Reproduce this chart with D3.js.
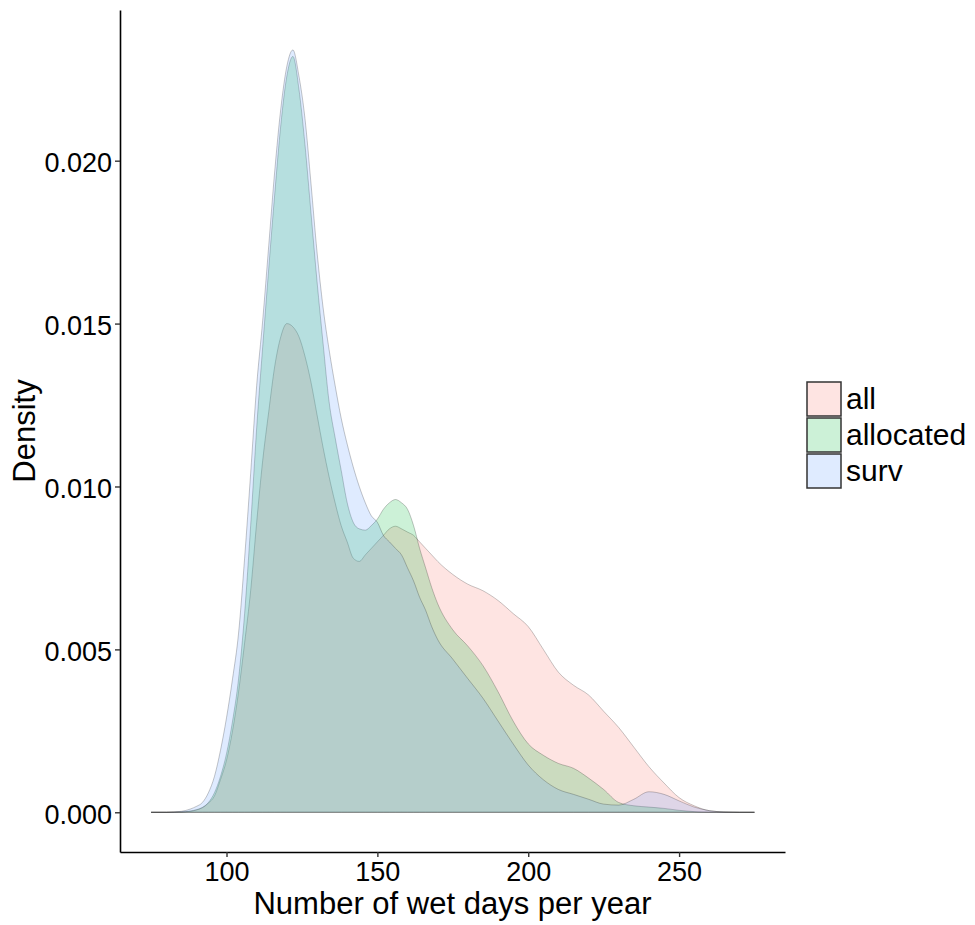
<!DOCTYPE html>
<html>
<head>
<meta charset="utf-8">
<script src="https://cdn.jsdelivr.net/npm/d3@7"></script>
<style>
  body { margin: 0; background: #fff; }
  text { font-family: "Liberation Sans", Arial, sans-serif; }
</style>
</head>
<body>
<div id="chart"></div>
<script>
// x grid of the density estimates (days per year)
const days = [75, 80, 85, 88, 90, 92, 94, 96, 98, 100, 102, 104, 106, 108, 110, 112, 114, 116, 118, 120,
  122, 124, 126, 128, 130, 132, 134, 136, 138, 140, 142, 144, 146, 148, 150, 152, 154, 156, 158, 160,
  162, 164, 166, 168, 170, 175, 180, 185, 190, 195, 200, 205, 210, 215, 220, 225, 230, 235, 240, 245,
  250, 255, 260, 265, 270, 275];

// density values, one per day in `days`
const allDensity = [0, 0, 0.00001, 0.00003, 0.00007, 0.00014, 0.00028, 0.0005, 0.001, 0.0016, 0.0025, 0.0037, 0.0052, 0.0068, 0.0089, 0.0108, 0.0123, 0.0137, 0.0146, 0.0150,
  0.0149, 0.0146, 0.0140, 0.0132, 0.0122, 0.0112, 0.0103, 0.0095, 0.0088, 0.0083, 0.0078, 0.0077, 0.0079, 0.0081, 0.0083, 0.0085, 0.0087, 0.00878, 0.0087, 0.0086,
  0.0085, 0.0083, 0.0081, 0.0079, 0.0077, 0.0073, 0.0070, 0.0068, 0.0065, 0.0061, 0.0057, 0.0050, 0.0043, 0.0039, 0.0036, 0.0031, 0.0026, 0.0020, 0.0014, 0.0009,
  0.00045, 0.0002, 0.00005, 0.00001, 0, 0];

const allocatedDensity = [0, 0, 0.00001, 0.00004, 0.00008, 0.00015, 0.0003, 0.0006, 0.0011, 0.0018, 0.0028, 0.0041, 0.0061, 0.0088, 0.0118, 0.0143, 0.0167, 0.0190, 0.0211, 0.0226,
  0.0232, 0.0222, 0.0205, 0.0184, 0.0163, 0.0144, 0.0126, 0.0115, 0.0105, 0.0095, 0.0089, 0.0087, 0.00866, 0.0088, 0.0090, 0.0093, 0.0095, 0.0096, 0.0095, 0.0093,
  0.0088, 0.0081, 0.0075, 0.0069, 0.0064, 0.0056, 0.0051, 0.0045, 0.0037, 0.0028, 0.0021, 0.00175, 0.0015, 0.00135, 0.00105, 0.0007, 0.0003, 0.0002, 0.00016, 0.00012,
  0.00006, 0.00002, 0, 0, 0, 0];

const survDensity = [0, 0, 0.00003, 0.0001, 0.00018, 0.0003, 0.0006, 0.0011, 0.0019, 0.0029, 0.0041, 0.0055, 0.0078, 0.0104, 0.0131, 0.0151, 0.0174, 0.0197, 0.0216, 0.0229,
  0.0234, 0.0226, 0.0213, 0.0193, 0.0172, 0.0155, 0.0142, 0.0131, 0.0121, 0.0113, 0.0106, 0.0100, 0.0095, 0.0091, 0.0089, 0.0085, 0.0083, 0.0081, 0.0079, 0.0075,
  0.0071, 0.0066, 0.0062, 0.0057, 0.0053, 0.0047, 0.0041, 0.0035, 0.0028, 0.0021, 0.00145, 0.0010, 0.0007, 0.00055, 0.0004, 0.00025, 0.00022, 0.0004, 0.00063, 0.00055,
  0.00035, 0.00016, 0.00005, 0.00001, 0, 0];

const groups = ["all", "allocated", "surv"];
const groupColors = ["#F8766D", "#00BA38", "#619CFF"];
const xTicks = [100, 150, 200, 250];
const yTicks = [0, 0.005, 0.010, 0.015, 0.020];

const width = 975, height = 925;
const panel = { left: 120, right: 785, top: 10, bottom: 852 };

const svg = d3.select("#chart").append("svg")
  .attr("width", width)
  .attr("height", height);

const x = d3.scaleLinear()
  .domain([64.7, 285.1])
  .range([panel.left, panel.right]);

const y = d3.scaleLinear()
  .domain([-0.001219, 0.024625])
  .range([panel.bottom, panel.top]);

const series = [allDensity, allocatedDensity, survDensity];

const area = d3.area()
  .x((d, i) => x(days[i]))
  .y0(y(0))
  .y1(d => y(d))
  .curve(d3.curveMonotoneX);

// density areas, drawn in group order so surv ends on top
svg.append("g")
  .selectAll("path")
  .data(series)
  .enter().append("path")
  .attr("d", d => area(d) + "Z")
  .attr("fill", (d, i) => groupColors[i])
  .attr("fill-opacity", 0.2)
  .attr("stroke", "#000")
  .attr("stroke-opacity", 0.22)
  .attr("stroke-width", 1);

// axes
const xAxis = svg.append("g")
  .attr("transform", `translate(0,${panel.bottom})`)
  .call(d3.axisBottom(x).tickValues(xTicks).tickSize(5).tickSizeOuter(0).tickPadding(5));

const yAxis = svg.append("g")
  .attr("transform", `translate(${panel.left},0)`)
  .call(d3.axisLeft(y).tickValues(yTicks).tickFormat(d3.format(".3f")).tickSize(5).tickSizeOuter(0).tickPadding(3));

[xAxis, yAxis].forEach(g => {
  g.select(".domain").attr("stroke", "#000").attr("stroke-width", 1.6);
  g.selectAll(".tick line").attr("stroke", "#333").attr("stroke-width", 1.4);
  g.selectAll(".tick text")
    .attr("fill", "#000")
    .style("font-size", "27px")
    .style("font-family", '"Liberation Sans", Arial, sans-serif');
});
xAxis.selectAll(".tick text").attr("dy", "0.71em");
yAxis.selectAll(".tick text").attr("dy", "0.4em");

// axis titles
svg.append("text")
  .attr("x", (panel.left + panel.right) / 2)
  .attr("y", 914)
  .attr("text-anchor", "middle")
  .style("font-size", "31px")
  .attr("fill", "#000")
  .text("Number of wet days per year");

svg.append("text")
  .attr("transform", `translate(35,${(panel.top + panel.bottom) / 2}) rotate(-90)`)
  .attr("text-anchor", "middle")
  .style("font-size", "31px")
  .attr("fill", "#000")
  .text("Density");

// legend
const keySize = 34, keyStep = 36;
const legend = svg.append("g").attr("transform", "translate(807,382)");
groups.forEach((g, i) => {
  legend.append("rect")
    .attr("x", 0)
    .attr("y", i * keyStep)
    .attr("width", keySize)
    .attr("height", keySize)
    .attr("fill", d3.color(groupColors[i]).copy({ opacity: 0.2 }))
    .attr("stroke", "#333")
    .attr("stroke-width", 1.5);
  legend.append("text")
    .attr("x", keySize + 5)
    .attr("y", i * keyStep + keySize / 2 + 10)
    .style("font-size", "30px")
    .attr("fill", "#000")
    .text(g);
});
</script>
</body>
</html>
